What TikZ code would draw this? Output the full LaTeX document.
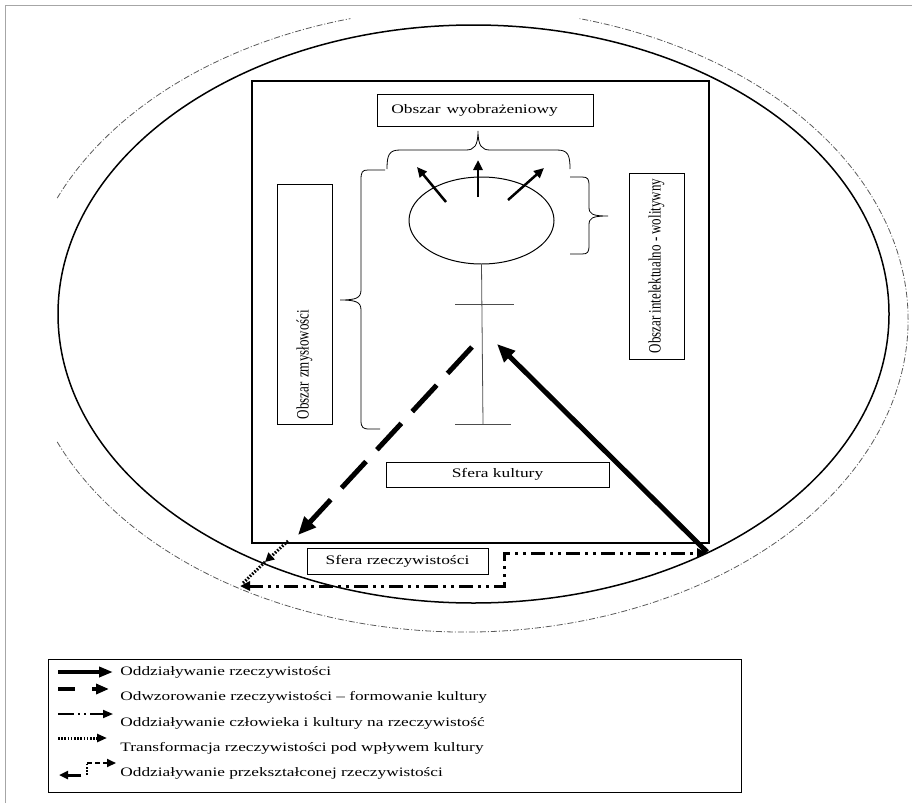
\documentclass[tikz,border=0pt]{standalone}
\usepackage{graphicx}
\usepackage{fontspec}
\setmainfont{Liberation Serif}
\usetikzlibrary{arrows.meta,shapes.geometric}

\newcommand{\mainsize}{\fontsize{13}{15}\selectfont}
\newcommand{\legsize}{\fontsize{12.9}{15}\selectfont}
\newcommand{\wide}[1]{\scalebox{1.34}[1]{#1}}
\newcommand{\tall}[1]{\scalebox{1}[1.34]{#1}}

\tikzset{every picture/.style={line width=0.75pt}}
\tikzset{
  box/.style={draw, line width=0.8pt, inner sep=0pt, font=\mainsize},
  legtext/.style={anchor=west, inner sep=0pt, font=\legsize},
  bigtip/.style={-{Triangle[length=18pt,width=15pt]}},
  smalltip/.style={-{Triangle[length=10pt,width=9pt]}},
  dashdot/.style={dash pattern={on 14pt off 5pt on 3pt off 5pt on 3pt off 5pt}},
  dotline/.style={dash pattern={on 1.6pt off 1.6pt}},
  curly/.style={line width=0.8pt},
  halo/.style={gray!70!black, line width=0.8pt, dash pattern={on 6pt off 2pt on 1pt off 2pt}},
}

\begin{document}
\begin{tikzpicture}[x=1pt,y=1pt,yscale=-1]
\useasboundingbox (0,0) rectangle (912,803);

%Outer frame (cut by the page)
\draw [gray!70, line width=1pt] (5,803) -- (5,5) -- (912,5);

%Outer dash-dot arcs
\draw [halo] (57.2,198.1) arc [start angle=203, end angle=255, x radius=443, y radius=312];
\draw [halo] (57.2,441.9) arc [start angle=157, end angle=-75, x radius=443, y radius=312];

%Reality ellipse
\draw [line width=1.5pt] (473.5,314) ellipse [x radius=415.5, y radius=289];

%Culture frame
\draw [line width=1.5pt] (252,81) rectangle (709,543);

%Boxes
\node [box, anchor=north west, minimum width=216, minimum height=32, text width=188, inner xsep=14, align=left] (wyobr) at (377,94) {\wide{Obszar wyobrażeniowy}};
\node [box, rotate=90, minimum width=240, minimum height=55, text width=230, inner xsep=5, align=left] (zmysl) at (304.5,304) {\tall{Obszar zmysłowości}};
\node [box, rotate=90, minimum width=186, minimum height=55] (intel) at (656.5,266) {\tall{Obszar intelektualno - wolitywny}};
\node [box, minimum width=223, minimum height=25] (kultura) at (497.5,474.5) {\wide{Sfera kultury}};
\node [box, minimum width=181, minimum height=26] (rzecz) at (397.5,561) {\wide{Sfera rzeczywistości}};

%Psyche
\node [draw, ellipse, line width=1pt, minimum width=145, minimum height=87, inner sep=0pt] (psyche) at (481.5,220.5) {};

%Brace over the psyche
\draw [curly] (387,169) .. controls (387,155) and (389,150) .. (400,150) -- (466,150) .. controls (474,150) and (478,146) .. (478,131) .. controls (478,146) and (482,150) .. (490,150) -- (557,150) .. controls (568,150) and (570,155) .. (570,169);
%Brace on the left
\draw [curly] (385,170) -- (368,170) .. controls (362,170) and (361,172) .. (361,180) -- (361,290) .. controls (361,298) and (356,300) .. (340,300) .. controls (356,300) and (361,302) .. (361,310) -- (361,420) .. controls (361,428) and (363,429) .. (370,429) -- (380,429);
%Brace on the right
\draw [curly] (570,177) -- (582,177) .. controls (588,177) and (589,179) .. (589,186) -- (589,207) .. controls (589,214) and (592,216) .. (608,216) .. controls (592,216) and (589,218) .. (589,225) -- (589,245) .. controls (589,252) and (588,254) .. (582,254) -- (570,254);

%Arrows out of psyche
\coordinate (a1) at (446,202);
\coordinate (a1e) at (417,167);
\coordinate (a2) at (478,197);
\coordinate (a2e) at (478,160);
\coordinate (a3) at (508,200);
\coordinate (a3e) at (544,168);
\draw [smalltip, line width=2.5pt] (a1) -- (a1e);
\draw [smalltip, line width=2.5pt] (a2) -- (a2e);
\draw [smalltip, line width=2.5pt] (a3) -- (a3e);

%Axis with bars
\coordinate (axtop) at (psyche.south);
\coordinate (axbot) at (483,424);
\draw [gray!60!black, line width=0.8pt] (axtop) -- (axbot);
\draw [gray!60!black, line width=0.8pt] (455,304) -- (514,304);
\draw [gray!60!black, line width=0.8pt] (455,424) -- (511,424);

%Reality -> culture
\coordinate (rs) at (707,552);
\coordinate (re) at (497,344);
\draw [bigtip, line width=5pt] (rs) -- (re);

%Culture -> reality (dashed)
\coordinate (ds) at (472,347);
\coordinate (de) at (298,535);
\draw [bigtip, line width=5pt, dash pattern={on 36pt off 16pt}] (ds) -- (de);

%Transformation (dotted)
\coordinate (ts) at (288,541);
\coordinate (tm) at (265,562);
\coordinate (te) at (243,583);
\draw [-{Triangle[length=9pt,width=9pt]}, line width=3pt, dotline] (ts) -- (tm);
\draw [line width=3pt, dotline] (tm) -- (te);

%Man and culture on reality (dash-dot)
\coordinate (hl) at (240,586);
\coordinate (hr) at (707,553);
\draw [{Triangle[length=10pt,width=9pt]}-{Triangle[length=10pt,width=9pt]}, dashdot, line width=3pt] (hl) -- (504,586) -- (504,553) -- (hr);

%Legend
\draw [line width=0.8pt] (48,659) rectangle (741,792);
\draw [-{Triangle[length=14pt,width=10pt]}, line width=4pt] (58,672) -- (113,672);
\draw [line width=4pt] (58,689) -- (75,689);
\draw [-{Triangle[length=13pt,width=10pt]}, line width=4pt] (92,689) -- (109,689);
\draw [-{Triangle[length=10pt,width=8pt]}, line width=1.8pt, dash pattern={on 16pt off 4pt on 2pt off 4pt on 2pt off 4pt}] (58,714) -- (113,714);
\draw [-{Triangle[length=10pt,width=8pt]}, line width=3pt, dotline] (58,738) -- (107,738);
\draw [-{Triangle[length=9pt,width=8pt]}, line width=3pt] (81,775) -- (59,775);
\draw [line width=1.8pt, dotline] (87,775) -- (87,763);
\draw [-{Triangle[length=9pt,width=8pt]}, line width=1.8pt, dash pattern={on 5pt off 3pt}] (87,763) -- (116,763);
\node [legtext] (l1) at (120,672) {\wide{Oddziaływanie rzeczywistości}};
\node [legtext] (l2) at (120,697) {\wide{Odwzorowanie rzeczywistości -- formowanie kultury}};
\node [legtext] (l3) at (120,723) {\wide{Oddziaływanie człowieka i kultury na rzeczywistość}};
\node [legtext] (l4) at (120,748) {\wide{Transformacja rzeczywistości pod wpływem kultury}};
\node [legtext] (l5) at (120,773) {\wide{Oddziaływanie przekształconej rzeczywistości}};

\end{tikzpicture}
\end{document}
